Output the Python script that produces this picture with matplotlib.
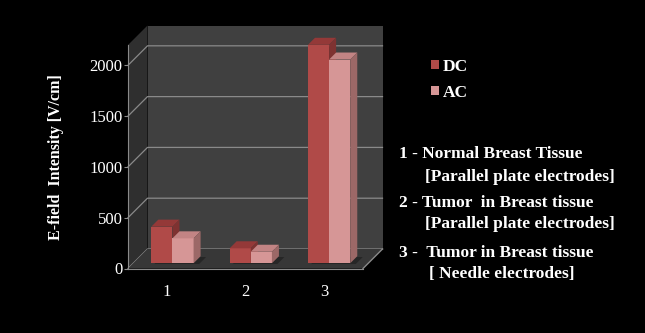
import numpy as np
import matplotlib.pyplot as plt
from matplotlib.patches import Polygon

groups = ['1', '2', '3']
dc = [360, 147, 2150]
ac = [245, 113, 2005]
yticks = [0, 500, 1000, 1500, 2000]
ymax = 2200

notes = ['1 - Normal Breast Tissue',
         '[Parallel plate electrodes]',
         '2 - Tumor  in Breast tissue',
         '[Parallel plate electrodes]',
         '3 -  Tumor in Breast tissue',
         '[ Needle electrodes]']
note_x = [399, 425, 399, 425, 399, 429]
note_y = [154, 177, 203, 224, 253, 274]

plt.rcParams['font.family'] = ['Liberation Serif', 'DejaVu Serif']

W, H = 645, 333
fig = plt.figure(figsize=(W/100, H/100), dpi=100, facecolor='black')
ax = fig.add_axes([128/W, 64.5/H, 235/W, 223.5/H])
ax.set_facecolor('none')
ax.set_xlim(0.5, 3.5)
ax.set_ylim(0, ymax)

# depth of the box, in data units (about 19.5 px each way)
DX = 19.5 / (235/3)
DY = 19.5 / (223.5/ymax)

x0, x1 = 0.5, 3.5
ax.add_patch(Polygon([(x0, 0), (x0+DX, DY), (x0+DX, ymax+DY), (x0, ymax)],
                     fc='#2f2f2f', ec='none', zorder=0, clip_on=False))
ax.add_patch(Polygon([(x0+DX, DY), (x1+DX, DY), (x1+DX, ymax+DY), (x0+DX, ymax+DY)],
                     fc='#404040', ec='none', zorder=0, clip_on=False))
ax.add_patch(Polygon([(x0, 0), (x1, 0), (x1+DX, DY), (x0+DX, DY)],
                     fc='#373737', ec='none', zorder=1, clip_on=False))

for v in yticks:
    ax.plot([x0, x0+DX, x1+DX], [v, v+DY, v+DY], color='#8a8a8a', lw=0.9,
            zorder=0.5, clip_on=False)
ax.plot([x1, x1+DX], [0, DY], color='#8a8a8a', lw=1.0, zorder=1.2, clip_on=False)

# bars sit part way into the floor
T0, TD = 0.27, 0.36
BW = 0.27
x = np.arange(1, len(groups)+1)
sx, sy = T0*DX, T0*DY

styles = [(dc, -BW, '#b04a48', '#943938', '#7e3231', 3),
          (ac, 0.0, '#d69696', '#c28484', '#9c6867', 4)]

# soft shadows on the floor
for xi in x:
    l = xi - BW + sx + 0.04
    r = xi + BW + sx + 0.07
    b = sy - 8
    ax.add_patch(Polygon([(l, b), (r, b), (r+TD*DX, b+TD*DY), (l+TD*DX, b+TD*DY)],
                         fc='#262626', ec='none', zorder=2, clip_on=False))

handles = []
for vals, off, front, top, side, z in styles:
    bars = ax.bar(x + off + sx, vals, width=BW, bottom=sy, align='edge',
                  color=front, edgecolor='none', zorder=z, clip_on=False)
    handles.append(bars)
    for rect, v in zip(bars, vals):
        l = rect.get_x()
        r = l + BW
        t = sy + v
        ax.add_patch(Polygon([(l, t), (r, t), (r+TD*DX, t+TD*DY), (l+TD*DX, t+TD*DY)],
                             fc=top, ec='none', zorder=z, clip_on=False))
        ax.add_patch(Polygon([(r, sy), (r+TD*DX, sy+TD*DY), (r+TD*DX, t+TD*DY), (r, t)],
                             fc=side, ec='none', zorder=z, clip_on=False))

for s in ['top', 'right']:
    ax.spines[s].set_visible(False)
ax.spines['left'].set_color('#8a8a8a')
ax.spines['bottom'].set_color('#8a8a8a')
ax.spines['left'].set_zorder(1.2)
ax.spines['bottom'].set_zorder(1.2)

ax.set_yticks(yticks)
ax.set_xticks(x)
ax.set_xticklabels(groups)
ax.tick_params(axis='y', colors='#8a8a8a', labelcolor='white', length=3, pad=1,
               labelsize=12)
ax.tick_params(axis='x', length=0, pad=11, labelcolor='white', labelsize=12)
ax.set_ylabel('E-field  Intensity [V/cm]', color='white', fontweight='bold',
              fontsize=11.5, labelpad=18)

ax.legend(handles, ['DC', 'AC'], loc='upper left',
          bbox_to_anchor=(431/W, 1-59/H), bbox_transform=fig.transFigure,
          frameon=False, labelcolor='white', prop={'weight': 'bold', 'size': 12.5},
          handlelength=0.45, handleheight=0.45, handletextpad=0.25,
          labelspacing=0.55, borderpad=0, borderaxespad=0)

for txt, nx, ny in zip(notes, note_x, note_y):
    fig.text(nx/W, 1-ny/H, txt, color='white', fontsize=12.5, fontweight='bold',
             ha='left', va='center')

fig.savefig('out.png', dpi=100, facecolor='black')
